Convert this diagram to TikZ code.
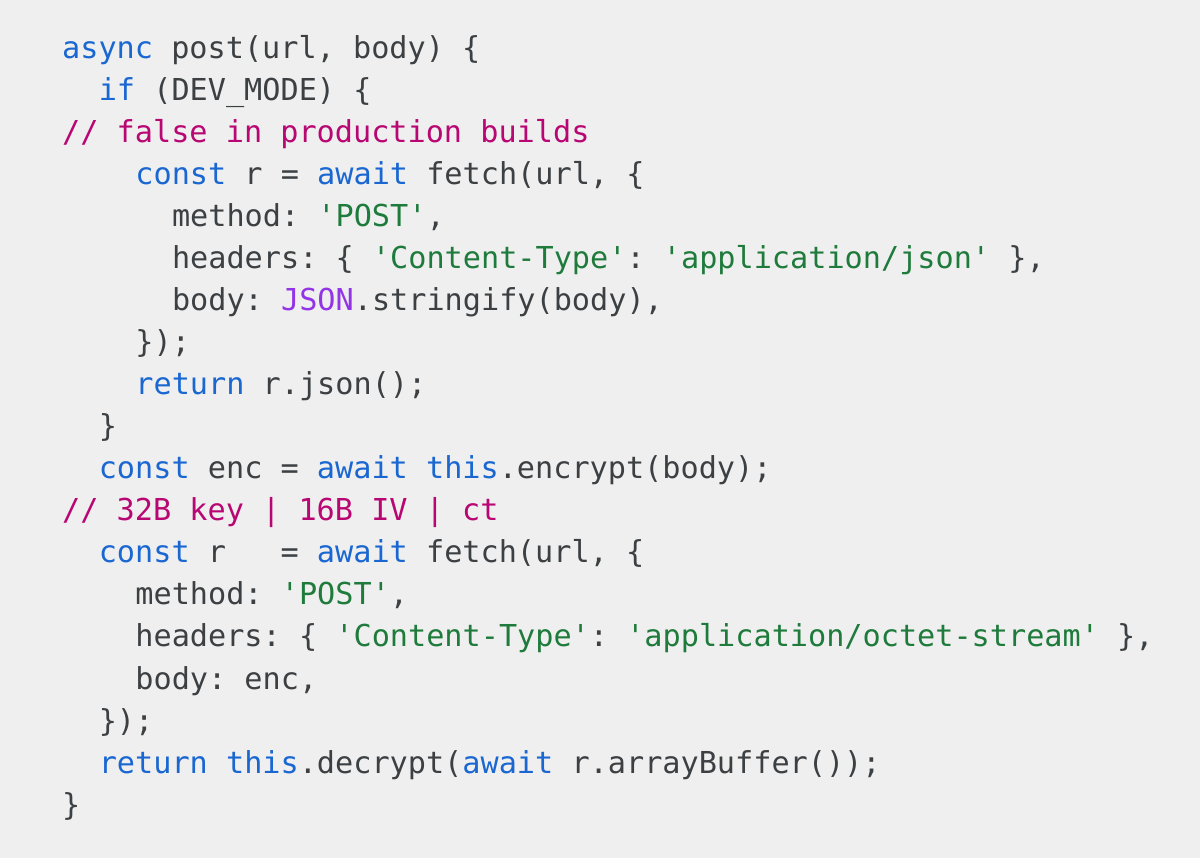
\documentclass[tikz,border=0pt]{standalone}
\usepackage{fontspec}
\newfontfamily\code[Ligatures=ResetAll]{DejaVu Sans Mono}
\definecolor{bg}{HTML}{EFEFEF}
\definecolor{tx}{HTML}{3C4043}
\definecolor{kw}{HTML}{1A67D2}
\definecolor{cm}{HTML}{B80672}
\definecolor{st}{HTML}{1E7B3C}
\definecolor{js}{HTML}{9334E6}
\newcommand\kw[1]{\textcolor{kw}{#1}}
\newcommand\cm[1]{\textcolor{cm}{#1}}
\newcommand\st[1]{\textcolor{st}{#1}}
\newcommand\js[1]{\textcolor{js}{#1}}
\newcommand\q{\char39 }
\begin{document}
\frenchspacing
\begin{tikzpicture}[x=1pt,y=1pt,
  ln/.style={anchor=mid west,inner sep=0pt,text=tx,font=\code\fontsize{30.2}{36}\selectfont\frenchspacing}]
\fill[bg] (0,0) rectangle (1200,858);
\useasboundingbox (0,0) rectangle (1200,858);
\def\L#1#2#3{\node[ln] (l#1) at ({62+#2*18.3},{858-56-(#1-1)*42.06}) {#3};}
\L{1}{0}{\kw{async} post(url, body) \{}
\L{2}{2}{\kw{if} (DEV\_MODE) \{}
\L{3}{0}{\cm{// false in production builds}}
\L{4}{4}{\kw{const} r = \kw{await} fetch(url, \{}
\L{5}{6}{method: \st{\q POST\q},}
\L{6}{6}{headers: \{ \st{\q Content-Type\q}: \st{\q application/json\q} \},}
\L{7}{6}{body: \js{JSON}.stringify(body),}
\L{8}{4}{\});}
\L{9}{4}{\kw{return} r.json();}
\L{10}{2}{\}}
\L{11}{2}{\kw{const} enc = \kw{await} \kw{this}.encrypt(body);}
\L{12}{0}{\cm{// 32B key | 16B IV | ct}}
\L{13}{2}{\kw{const} r~~~= \kw{await} fetch(url, \{}
\L{14}{4}{method: \st{\q POST\q},}
\L{15}{4}{headers: \{ \st{\q Content-Type\q}: \st{\q application/octet-stream\q} \},}
\L{16}{4}{body: enc,}
\L{17}{2}{\});}
\L{18}{2}{\kw{return} \kw{this}.decrypt(\kw{await} r.arrayBuffer());}
\L{19}{0}{\}}
\end{tikzpicture}
\end{document}
